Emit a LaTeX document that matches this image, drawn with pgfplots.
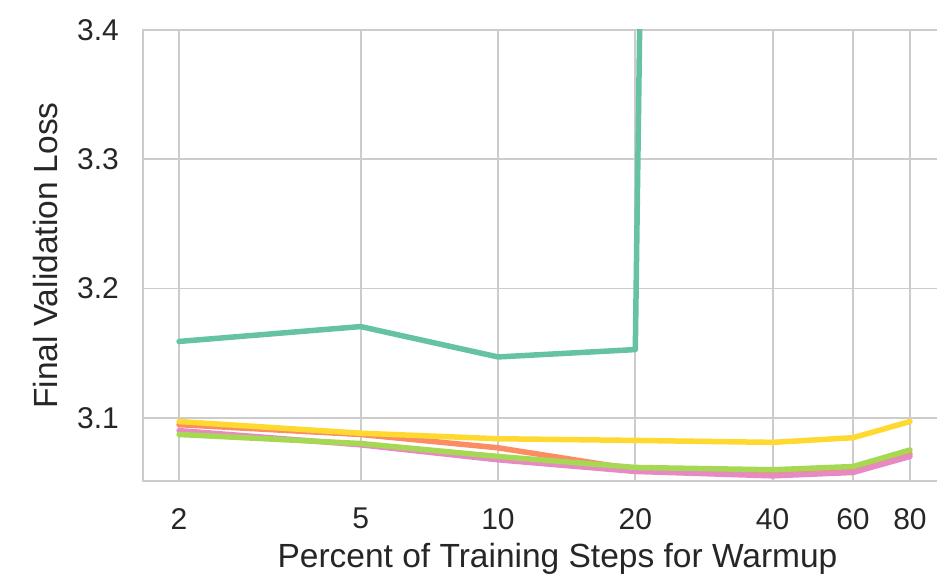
\documentclass[border=0pt]{standalone}
\usepackage{pgfplots}
\pgfplotsset{compat=1.18}
\usepackage{fontspec}
\setmainfont{Liberation Sans}
\definecolor{cteal}{HTML}{66C2A5}
\definecolor{corange}{HTML}{FC8D62}
\definecolor{cpink}{HTML}{E78AC3}
\definecolor{cgreen}{HTML}{A6D854}
\definecolor{cyellow}{HTML}{FFD92F}
\definecolor{gridc}{HTML}{CCCCCC}
\definecolor{txt}{HTML}{262626}
\begin{document}
\begin{tikzpicture}
\begin{axis}[
  at={(0pt,0pt)}, anchor=south west,
  scale only axis,
  width=829pt, height=451pt,
  xmode=log,
  xmin=1.667, xmax=109.4,
  ymin=3.051, ymax=3.4,
  xtick={2,5,10,20,40,60,80},
  xticklabels={2,5,10,20,40,60,80},
  ytick={3.1,3.2,3.3,3.4},
  /pgf/number format/assume math mode=true,
  tick style={draw=none},
  grid=major,
  major grid style={gridc, line width=1.8pt},
  axis line style={gridc, line width=1.8pt},
  ticklabel style={font=\fontsize{30}{34}\selectfont, text=txt, inner sep=0pt},
  xticklabel style={anchor=north, yshift=-27pt},
  yticklabel style={/pgf/number format/fixed, /pgf/number format/fixed zerofill, /pgf/number format/precision=1, anchor=east, xshift=-24pt},
  xlabel={Percent of Training Steps for Warmup},
  ylabel={Final Validation Loss},
  label style={font=\fontsize{33.5}{37}\selectfont, text=txt, inner sep=0pt},
  xlabel style={at={(axis description cs:0.5,-0.1907)}, anchor=base},
  ylabel style={at={(axis description cs:-0.1037,0.5)}, anchor=base},
  every axis plot/.append style={line width=5.5pt, line join=round, line cap=round},
]
\addplot[cteal] coordinates {(2,3.159) (5,3.1705) (10,3.147) (20,3.1527) (40,11.0)};
\addplot[corange] coordinates {(2,3.0946) (5,3.087) (10,3.0767) (20,3.060) (40,3.057) (60,3.060) (80,3.072)};
\addplot[cpink] coordinates {(2,3.090) (5,3.079) (10,3.0674) (20,3.0584) (40,3.055) (60,3.0576) (80,3.070)};
\addplot[cgreen] coordinates {(2,3.087) (5,3.080) (10,3.070) (20,3.0615) (40,3.0597) (60,3.0622) (80,3.075)};
\addplot[cyellow] coordinates {(2,3.097) (5,3.088) (10,3.0837) (20,3.0824) (40,3.0809) (60,3.0845) (80,3.097)};
\end{axis}
\pgfresetboundingbox
\path (-143pt,-101pt) rectangle (794pt,481pt);
\end{tikzpicture}
\end{document}
